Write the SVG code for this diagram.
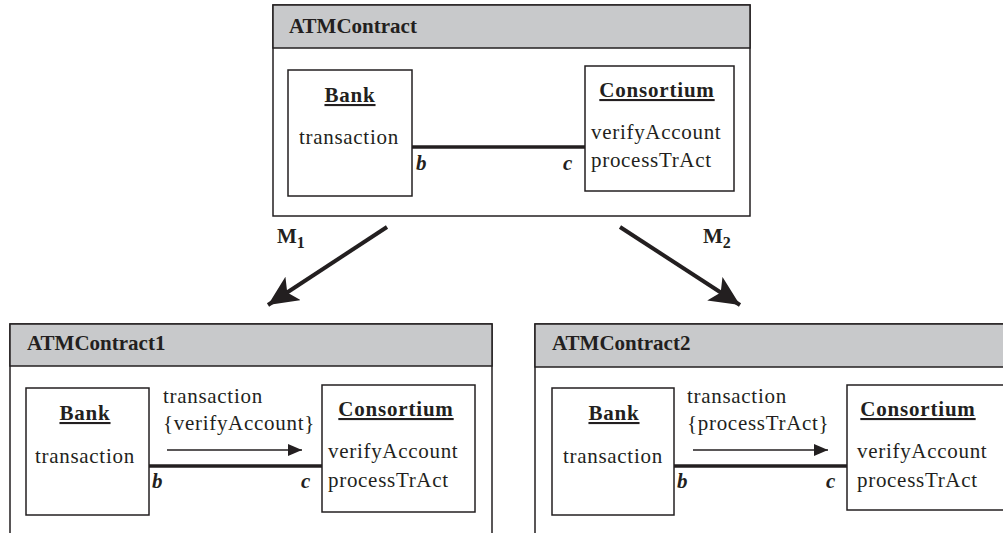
<svg xmlns="http://www.w3.org/2000/svg" width="1003" height="533" viewBox="0 0 1003 533">
<style>
.frame{fill:#fff;stroke:#231f20;stroke-width:1.5}
.head{fill:#c8c9cb;stroke:#231f20;stroke-width:1.5}
.box{fill:#fff;stroke:#231f20;stroke-width:1.5}
.t{font-family:"Liberation Serif","Times New Roman",serif;font-size:21px;fill:#231f20;letter-spacing:0.7px}
.h{font-family:"Liberation Serif","Times New Roman",serif;font-size:21px;font-weight:bold;fill:#231f20}
.n{font-family:"Liberation Serif","Times New Roman",serif;font-size:21px;font-weight:bold;fill:#231f20;text-decoration:underline;letter-spacing:0.8px}
.r{font-family:"Liberation Serif","Times New Roman",serif;font-size:21px;font-weight:bold;font-style:italic;fill:#231f20}
.link{stroke:#231f20;stroke-width:3.5;fill:none}
.msg{stroke:#231f20;stroke-width:1.5;fill:none}
.map{stroke:#231f20;stroke-width:4;fill:none}
</style>
<defs>
<marker id="bigArrow" markerUnits="userSpaceOnUse" markerWidth="34" markerHeight="30" refX="30" refY="14" orient="auto">
<path d="M0,0 L30,14 L0,28 L7,14 Z" fill="#231f20"/>
</marker>
<marker id="smallArrow" markerUnits="userSpaceOnUse" markerWidth="16" markerHeight="12" refX="14" refY="6" orient="auto">
<path d="M0,0 L14,6 L0,12 Z" fill="#231f20"/>
</marker>
</defs>

<g id="ATMContract">
<rect class="frame" x="273" y="5" width="477" height="211"/>
<rect class="head" x="273" y="5" width="477" height="43"/>
<text class="h" x="289" y="33">ATMContract</text>
</g>
<g id="Bank0">
<rect class="box" x="288" y="70" width="124" height="126"/>
<text class="n" x="350" y="102" text-anchor="middle">Bank</text>
<text class="t" x="299" y="144">transaction</text>
</g>
<g id="Consortium0">
<rect class="box" x="585" y="66" width="149" height="125"/>
<text class="n" x="657" y="97" text-anchor="middle">Consortium</text>
<text class="t" x="591" y="139">verifyAccount</text>
<text class="t" x="591" y="167">processTrAct</text>
</g>

<g id="ATMContract1">
<rect class="frame" x="10" y="324" width="482" height="220"/>
<rect class="head" x="10" y="324" width="482" height="42"/>
<text class="h" x="27" y="350">ATMContract1</text>
</g>
<g id="Bank1">
<rect class="box" x="26" y="388" width="123" height="127"/>
<text class="n" x="85" y="420" text-anchor="middle">Bank</text>
<text class="t" x="35" y="463">transaction</text>
</g>
<g id="Consortium1">
<rect class="box" x="322" y="385" width="153" height="127"/>
<text class="n" x="396" y="416" text-anchor="middle">Consortium</text>
<text class="t" x="328" y="458">verifyAccount</text>
<text class="t" x="328" y="487">processTrAct</text>
</g>

<g id="ATMContract2">
<rect class="frame" x="535" y="324" width="476" height="220"/>
<rect class="head" x="535" y="324" width="476" height="43"/>
<text class="h" x="552" y="350">ATMContract2</text>
</g>
<g id="Bank2">
<rect class="box" x="552" y="388" width="122" height="127"/>
<text class="n" x="614" y="420" text-anchor="middle">Bank</text>
<text class="t" x="563" y="463">transaction</text>
</g>
<g id="Consortium2">
<rect class="box" x="847" y="385" width="160" height="125"/>
<text class="n" x="918" y="416" text-anchor="middle">Consortium</text>
<text class="t" x="857" y="458">verifyAccount</text>
<text class="t" x="857" y="487">processTrAct</text>
</g>

<g id="connectors">
<line class="link" x1="412" y1="147" x2="585" y2="147"/>
<text class="r" x="416" y="170">b</text>
<text class="r" x="563" y="170">c</text>

<line class="link" x1="149" y1="466" x2="322" y2="466"/>
<text class="r" x="152" y="488">b</text>
<text class="r" x="301" y="488">c</text>
<text class="t" x="163" y="403">transaction</text>
<text class="t" x="163" y="430">{verifyAccount}</text>
<line class="msg" x1="167" y1="450" x2="302" y2="450" marker-end="url(#smallArrow)"/>

<line class="link" x1="674" y1="466" x2="847" y2="466"/>
<text class="r" x="677" y="488">b</text>
<text class="r" x="826" y="488">c</text>
<text class="t" x="687" y="403">transaction</text>
<text class="t" x="687" y="430">{processTrAct}</text>
<line class="msg" x1="693" y1="450" x2="828" y2="450" marker-end="url(#smallArrow)"/>

<line class="map" x1="387" y1="227" x2="268" y2="305" marker-end="url(#bigArrow)"/>
<line class="map" x1="620" y1="227" x2="740" y2="305" marker-end="url(#bigArrow)"/>
<text class="h" x="277" y="243">M<tspan font-size="16" dy="5">1</tspan></text>
<text class="h" x="703" y="243">M<tspan font-size="16" dy="5">2</tspan></text>
</g>
</svg>
